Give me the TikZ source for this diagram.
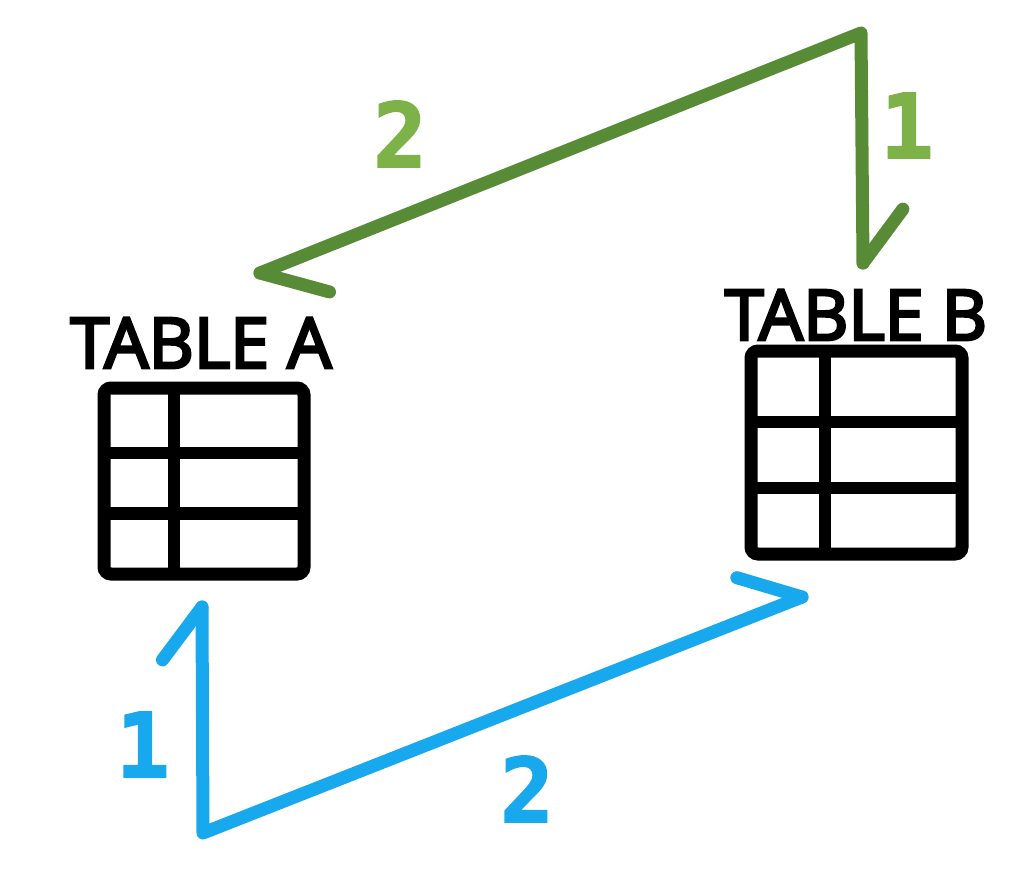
\documentclass[tikz,border=0pt]{standalone}
\usepackage{fontspec}
\setmainfont{Open Sans}
\newfontfamily\titlefont{Open Sans}[FakeBold=4]
\newfontfamily\digitfont{DejaVu Sans Mono}[BoldFeatures={FakeBold=2}]
\usetikzlibrary{calc}
\definecolor{gline}{HTML}{588B36}
\definecolor{glabel}{HTML}{7DB249}
\definecolor{bline}{HTML}{18A8EE}
\tikzset{
  tablebox/.style={draw=black, line width=13pt, rounded corners=7pt, inner sep=0pt, outer sep=0pt},
  gridline/.style={draw=black, line width=12.5pt},
  tabletitle/.style={anchor=base, inner sep=0pt, font=\titlefont\fontsize{70}{84}\selectfont},
  stepnum/.style={anchor=base, inner sep=0pt, font=\digitfont\bfseries\fontsize{89}{100}\selectfont},
  flow/.style={line width=13pt, line cap=round, line join=round},
}
\begin{document}
\begin{tikzpicture}[x=1pt, y=-1pt]
\useasboundingbox (0,0) rectangle (1014,874);
% tables
\node[tablebox, minimum width=200pt, minimum height=186pt] (ta) at (204,481) {};
\node[tablebox, minimum width=211pt, minimum height=203pt] (tb) at (856.5,452.5) {};
\foreach \t in {ta,tb}{
  \draw[gridline] ($(\t.north west)!0.35!(\t.south west)$) -- ($(\t.north east)!0.35!(\t.south east)$);
  \draw[gridline] ($(\t.north west)!0.675!(\t.south west)$) -- ($(\t.north east)!0.675!(\t.south east)$);
  \draw[gridline] ($(\t.north west)!0.35!(\t.north east)$) -- ($(\t.south west)!0.35!(\t.south east)$);
}
\node[tabletitle] (la) at (201,368) {TABLE A};
\node[tabletitle] (lb) at (856,340) {TABLE B};
% green connector (B side first, then to A)
\coordinate (gtop) at (861,33);
\coordinate (gtipb) at (863,263);
\coordinate (gtipa) at (260,273);
\draw[flow, gline] (gtipa) -- (gtop) -- (gtipb);
\draw[flow, gline] (gtipb) -- ($(gtipb)!67pt!-37:(gtop)$);
\draw[flow, gline] (gtipa) -- ($(gtipa)!72pt!-37:(gtop)$);
% blue connector
\coordinate (bcorner) at (203,833);
\coordinate (btipa) at (202,607);
\coordinate (btipb) at (802,597);
\draw[flow, bline] (btipa) -- (bcorner) -- (btipb);
\draw[flow, bline] (btipa) -- ($(btipa)!66pt!-37:(bcorner)$);
\draw[flow, bline] (btipb) -- ($(btipb)!68pt!-38:(bcorner)$);
% step labels
\node[stepnum, text=glabel] (g1) at (907,158) {1};
\node[stepnum, text=glabel] (g2) at (400,167) {2};
\node[stepnum, text=bline] (b1) at (143,777) {1};
\node[stepnum, text=bline] (b2) at (527,822) {2};
\end{tikzpicture}
\end{document}
